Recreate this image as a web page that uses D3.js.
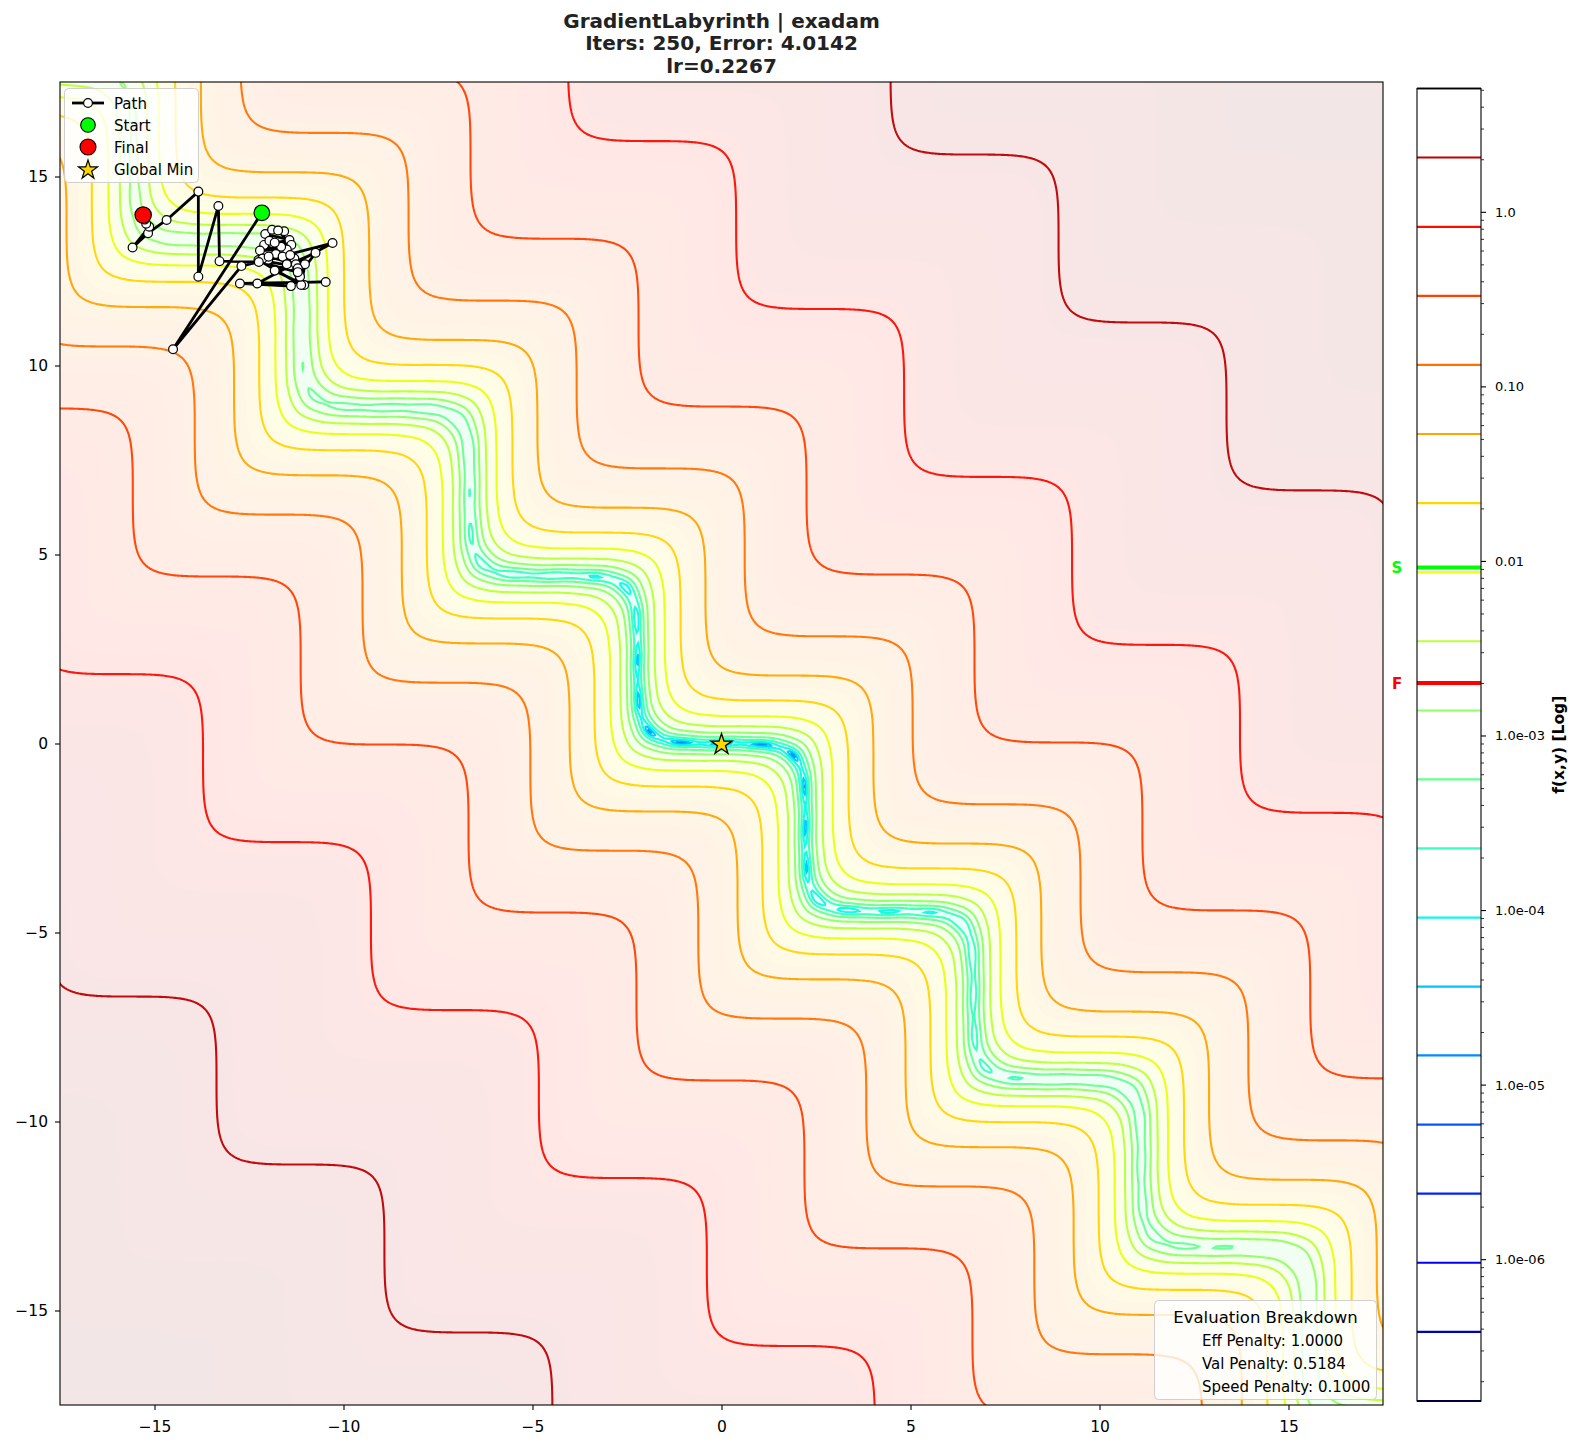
<!DOCTYPE html>
<html>
<head>
<meta charset="utf-8">
<script src="https://cdn.jsdelivr.net/npm/d3@7"></script>
<style>
body { margin: 0; background: #fff; }
text { font-family: "DejaVu Sans", sans-serif; }
</style>
</head>
<body>
<svg id="chart" width="1578" height="1449"></svg>
<script>
// ---- data ----
var titleLines = ["GradientLabyrinth | exadam", "Iters: 250, Error: 4.0142", "lr=0.2267"];
var xTicks = [-15, -10, -5, 0, 5, 10, 15];
var yTicks = [-15, -10, -5, 0, 5, 10, 15];

// contour levels (log spaced)
var levels = [1.55e-7, 3.86e-7, 9.6e-7, 2.39e-6, 5.94e-6, 1.48e-5, 3.67e-5, 9.1e-5,
	2.27e-4, 5.64e-4, 1.40e-3, 3.49e-3, 8.67e-3, 0.0216, 0.0537, 0.1335, 0.332, 0.826, 2.06, 5.12];
var cbTicks = [1e-6, 1e-5, 1e-4, 1e-3, 1e-2, 1e-1, 1];
var cbTickLabels = ["1.0e-06", "1.0e-05", "1.0e-04", "1.0e-03", "0.01", "0.10", "1.0"];
var startValue = 0.00923;
var finalValue = 0.00201;

// optimiser path
var pathX = [-12.16, -14.51, -12.70, -11.99, -10.29, -12.28, -10.47, -12.74, -11.39, -10.74,
	-11.82, -11.04, -11.41, -12.25, -11.12, -11.02, -12.10, -11.43, -12.07, -11.57,
	-11.89, -11.73, -11.38, -11.96, -11.50, -12.21, -11.65, -11.82, -11.30, -12.14,
	-11.79, -11.61, -11.26, -11.98, -11.41, -11.21, -11.50, -11.19, -11.15, -11.21,
	-12.24, -13.28, -13.31, -13.84, -13.84, -14.68, -15.17, -15.58, -15.14, -15.22,
	-15.26, -15.30];
var pathY = [14.04, 10.43, 12.63, 12.80, 13.24, 12.17, 12.21, 12.17, 12.10, 12.98,
	12.51, 12.13, 12.65, 12.79, 12.13, 12.68, 13.19, 13.32, 13.48, 13.55,
	13.59, 13.57, 13.19, 13.30, 13.07, 13.04, 13.14, 13.25, 12.83, 12.83,
	12.95, 12.88, 12.68, 12.88, 12.92, 12.57, 12.68, 12.43, 12.35, 12.47,
	12.74, 12.76, 14.22, 12.35, 14.60, 13.85, 13.50, 13.12, 13.67, 13.75,
	13.86, 13.98];
var globalMin = [0, 0];

var legendNames = ["Path", "Start", "Final", "Global Min"];
var evalTitle = "Evaluation Breakdown";
var evalLines = ["Eff Penalty: 1.0000", "Val Penalty: 0.5184", "Speed Penalty: 0.1000"];

// surface shape parameters
var bowl = 0.0083, stepSharp = 1.2, floorK = 2e-6, rippleAmp = 3.5e-5;

// staircase profile: integral of a soft square wave (slope +1 / -1 along the diagonal)
var stairN = 4096, stairTab = new Float64Array(stairN + 1);
(function() {
	var h = 2 * Math.PI / stairN, norm = Math.tanh(stepSharp);
	var prev = 1, acc = 0;
	stairTab[0] = 0;
	for (var k = 1; k <= stairN; k++) {
		var s = Math.tanh(stepSharp * Math.cos(k * h)) / norm;
		acc += 0.5 * (prev + s) * h;
		stairTab[k] = acc;
		prev = s;
	}
})();
function stair(v) {
	var p = v / (2 * Math.PI);
	p = (p - Math.floor(p)) * stairN;
	var k = Math.floor(p), f = p - k;
	return stairTab[k] + (stairTab[Math.min(k + 1, stairN)] - stairTab[k]) * f;
}

function surface(x, y) {
	var u = (x + y) / Math.SQRT2, v = (x - y) / Math.SQRT2;
	var g = u - stair(v);
	var r2 = x * x + y * y;
	return bowl * g * g + floorK * r2 * (1 - 0.25 * Math.tanh(v / 4)) + rippleAmp * (1 - Math.cos(8 * v));
}

// jet colormap
var jetR = [[0, 0], [0.35, 0], [0.66, 1], [0.89, 1], [1, 0.5]];
var jetG = [[0, 0], [0.125, 0], [0.375, 1], [0.64, 1], [0.91, 0], [1, 0]];
var jetB = [[0, 0.5], [0.11, 1], [0.34, 1], [0.65, 0], [1, 0]];
function seg(pts, t) {
	for (var i = 1; i < pts.length; i++) {
		if (t <= pts[i][0]) {
			var a = pts[i - 1], b = pts[i];
			return a[1] + (b[1] - a[1]) * (t - a[0]) / (b[0] - a[0]);
		}
	}
	return pts[pts.length - 1][1];
}
function jet(t, alpha) {
	t = Math.max(0, Math.min(1, t));
	var al = alpha == null ? 1 : alpha;
	var r = seg(jetR, t), g = seg(jetG, t), b = seg(jetB, t);
	return d3.rgb(255 * (r * al + 1 - al), 255 * (g * al + 1 - al), 255 * (b * al + 1 - al)).toString();
}

// ---- layout ----
var svg = d3.select("#chart");
var plot = {l: 60, r: 1383, t: 82, b: 1405};
var cb = {l: 1417, r: 1481, t: 88.5, b: 1401};

var xScale = d3.scaleLinear().domain([-17.5, 17.5]).range([plot.l, plot.r]);
var yScale = d3.scaleLinear().domain([-17.5, 17.5]).range([plot.b, plot.t]);
var logMin = Math.log(levels[0]), logMax = Math.log(levels[levels.length - 1]);

var ext = 17.9;
function sampleGrid(n) {
	var vals = new Float64Array(n * n), step = 2 * ext / n;
	for (var j = 0; j < n; j++) {
		var y = ext - (j + 0.5) * step;
		for (var i = 0; i < n; i++) {
			vals[j * n + i] = surface(-ext + (i + 0.5) * step, y);
		}
	}
	return vals;
}
function gridPath(n) {
	var step = 2 * ext / n;
	return d3.geoPath(d3.geoTransform({
		point: function(px, py) { this.stream.point(xScale(-ext + px * step), yScale(ext - py * step)); }
	}));
}

svg.append("defs").append("clipPath").attr("id", "plotclip")
	.append("rect").attr("x", plot.l).attr("y", plot.t)
	.attr("width", plot.r - plot.l).attr("height", plot.b - plot.t);

var field = svg.append("g").attr("clip-path", "url(#plotclip)");

// faint filled background
var nBg = 300;
var bgVals = sampleGrid(nBg);
var bgSteps = 70;
var bgThr = d3.range(bgSteps).map(function(k) { return Math.exp(logMin + (logMax - logMin) * k / bgSteps); });
field.append("rect").attr("x", plot.l).attr("y", plot.t)
	.attr("width", plot.r - plot.l).attr("height", plot.b - plot.t)
	.attr("fill", jet(0, 0.1));
var bgPath = gridPath(nBg);
field.append("g").selectAll("path")
	.data(d3.contours().size([nBg, nBg]).thresholds(bgThr)(bgVals))
	.join("path")
	.attr("d", bgPath)
	.attr("fill", function(d, k) { return jet((k + 0.5) / bgSteps, 0.1); });

// contour lines
var nLine = 900;
var lineVals = sampleGrid(nLine);
var linePath = gridPath(nLine);
field.append("g").selectAll("path")
	.data(d3.contours().size([nLine, nLine]).thresholds(levels)(lineVals))
	.join("path")
	.attr("d", linePath)
	.attr("fill", "none")
	.attr("stroke", function(d, k) { return jet(k / (levels.length - 1)); })
	.attr("stroke-opacity", 0.95)
	.attr("stroke-width", 2.1);

// optimiser path
var pts = pathX.map(function(x, i) { return [xScale(x), yScale(pathY[i])]; });
field.append("path")
	.attr("d", d3.line()(pts))
	.attr("fill", "none").attr("stroke", "#000").attr("stroke-width", 2.8)
	.attr("stroke-linejoin", "round");
field.append("g").selectAll("circle").data(pts).join("circle")
	.attr("cx", function(d) { return d[0]; }).attr("cy", function(d) { return d[1]; })
	.attr("r", 4.4).attr("fill", "#fff").attr("stroke", "#000").attr("stroke-width", 1.2);

function starPath(cx, cy, R) {
	var p = [];
	for (var i = 0; i < 10; i++) {
		var rr = i % 2 === 0 ? R : R * 0.382;
		var a = -Math.PI / 2 + i * Math.PI / 5;
		p.push([cx + rr * Math.cos(a), cy + rr * Math.sin(a)]);
	}
	return "M" + p.join("L") + "Z";
}

var last = pts.length - 1;
field.append("circle").attr("cx", pts[0][0]).attr("cy", pts[0][1]).attr("r", 7.8)
	.attr("fill", "#00ff00").attr("stroke", "#000").attr("stroke-width", 1.2);
field.append("circle").attr("cx", pts[last][0]).attr("cy", pts[last][1]).attr("r", 8.2)
	.attr("fill", "#ff0000").attr("stroke", "#000").attr("stroke-width", 1.2);
field.append("path").attr("d", starPath(xScale(globalMin[0]), yScale(globalMin[1]) + 1, 11))
	.attr("fill", "#ffd700").attr("stroke", "#000").attr("stroke-width", 1.3);

// frame
svg.append("rect").attr("x", plot.l).attr("y", plot.t)
	.attr("width", plot.r - plot.l).attr("height", plot.b - plot.t)
	.attr("fill", "none").attr("stroke", "#000").attr("stroke-width", 1.1);

// axes
function fmt(v) { return v < 0 ? "\u2212" + Math.abs(v) : String(v); }
var xAxis = svg.append("g").attr("transform", "translate(0," + plot.b + ")")
	.call(d3.axisBottom(xScale).tickValues(xTicks).tickFormat(fmt).tickSize(5).tickPadding(11));
var yAxis = svg.append("g").attr("transform", "translate(" + plot.l + ",0)")
	.call(d3.axisLeft(yScale).tickValues(yTicks).tickFormat(fmt).tickSize(5).tickPadding(7));
[xAxis, yAxis].forEach(function(a) {
	a.select(".domain").remove();
	a.selectAll("line").attr("stroke", "#000").attr("stroke-width", 1.1);
	a.selectAll("text").attr("font-size", 15.5).attr("fill", "#000")
		.attr("font-family", "DejaVu Sans, sans-serif");
});

// title
svg.append("g").selectAll("text").data(titleLines).join("text")
	.attr("x", (plot.l + plot.r) / 2).attr("y", function(d, i) { return 27.5 + i * 22.6; })
	.attr("text-anchor", "middle").attr("font-size", 20).attr("font-weight", "bold")
	.attr("fill", "#222").text(function(d) { return d; });

// legend
var lg = svg.append("g");
lg.append("rect").attr("x", 64.5).attr("y", 88.5).attr("width", 134).attr("height", 94)
	.attr("rx", 4).attr("fill", "#fff").attr("fill-opacity", 0.8)
	.attr("stroke", "#d0d0d0").attr("stroke-width", 1);
var rowY = [103, 125, 147, 169];
lg.append("line").attr("x1", 72).attr("x2", 104).attr("y1", rowY[0]).attr("y2", rowY[0])
	.attr("stroke", "#000").attr("stroke-width", 2.8);
lg.append("circle").attr("cx", 88).attr("cy", rowY[0]).attr("r", 4.4)
	.attr("fill", "#fff").attr("stroke", "#000").attr("stroke-width", 1.2);
lg.append("circle").attr("cx", 88).attr("cy", rowY[1]).attr("r", 7.3)
	.attr("fill", "#00ff00").attr("stroke", "#000").attr("stroke-width", 1.1);
lg.append("circle").attr("cx", 88).attr("cy", rowY[2]).attr("r", 8)
	.attr("fill", "#ff0000").attr("stroke", "#000").attr("stroke-width", 1.1);
lg.append("path").attr("d", starPath(88, rowY[3] + 1, 10))
	.attr("fill", "#ffd700").attr("stroke", "#000").attr("stroke-width", 1.2);
lg.selectAll("text.lab").data(legendNames).join("text").attr("class", "lab")
	.attr("x", 114).attr("y", function(d, i) { return rowY[i] + 5.5; })
	.attr("font-size", 15).attr("fill", "#000").text(function(d) { return d; });

// evaluation box
var eb = svg.append("g");
eb.append("rect").attr("x", 1154.5).attr("y", 1300.5).attr("width", 222).attr("height", 99)
	.attr("rx", 4).attr("fill", "#fff").attr("fill-opacity", 0.8)
	.attr("stroke", "#d0d0d0").attr("stroke-width", 1);
eb.append("text").attr("x", 1265.5).attr("y", 1323).attr("text-anchor", "middle")
	.attr("font-size", 16.5).attr("fill", "#000").text(evalTitle);
eb.selectAll("text.line").data(evalLines).join("text").attr("class", "line")
	.attr("x", 1202).attr("y", function(d, i) { return 1346 + i * 23; })
	.attr("font-size", 15).attr("fill", "#000").text(function(d) { return d; });

// colour bar
var cbScale = d3.scaleLog().domain([levels[0], levels[levels.length - 1]]).range([cb.b, cb.t]);
var cbg = svg.append("g");
cbg.append("rect").attr("x", cb.l).attr("y", cb.t).attr("width", cb.r - cb.l).attr("height", cb.b - cb.t)
	.attr("fill", "#fff");
cbg.selectAll("line.lev").data(levels).join("line").attr("class", "lev")
	.attr("x1", cb.l).attr("x2", cb.r)
	.attr("y1", function(d) { return cbScale(d); }).attr("y2", function(d) { return cbScale(d); })
	.attr("stroke", function(d, k) { return jet(k / (levels.length - 1)); })
	.attr("stroke-width", 2.2);
cbg.append("line").attr("x1", cb.l).attr("x2", cb.r)
	.attr("y1", cbScale(startValue)).attr("y2", cbScale(startValue))
	.attr("stroke", "#00ff00").attr("stroke-width", 4);
cbg.append("line").attr("x1", cb.l).attr("x2", cb.r)
	.attr("y1", cbScale(finalValue)).attr("y2", cbScale(finalValue))
	.attr("stroke", "#ff0000").attr("stroke-width", 4);
cbg.append("text").attr("x", 1397).attr("y", cbScale(startValue) + 5.5).attr("text-anchor", "middle")
	.attr("font-size", 15).attr("font-weight", "bold").attr("fill", "#00ff00").text("S");
cbg.append("text").attr("x", 1397).attr("y", cbScale(finalValue) + 5.5).attr("text-anchor", "middle")
	.attr("font-size", 15).attr("font-weight", "bold").attr("fill", "#ff0000").text("F");
cbg.append("rect").attr("x", cb.l).attr("y", cb.t).attr("width", cb.r - cb.l).attr("height", cb.b - cb.t)
	.attr("fill", "none").attr("stroke", "#000").attr("stroke-width", 1.1);

// minor ticks
var minorTicks = [];
for (var e = -7; e <= 0; e++) {
	for (var m = 2; m <= 9; m++) {
		var tv = m * Math.pow(10, e);
		if (tv > levels[0] && tv < levels[levels.length - 1]) minorTicks.push(tv);
	}
}
cbg.selectAll("line.minor").data(minorTicks).join("line").attr("class", "minor")
	.attr("x1", cb.r).attr("x2", cb.r + 3)
	.attr("y1", function(d) { return cbScale(d); }).attr("y2", function(d) { return cbScale(d); })
	.attr("stroke", "#000").attr("stroke-width", 0.8);
cbg.selectAll("line.major").data(cbTicks).join("line").attr("class", "major")
	.attr("x1", cb.r).attr("x2", cb.r + 5)
	.attr("y1", function(d) { return cbScale(d); }).attr("y2", function(d) { return cbScale(d); })
	.attr("stroke", "#000").attr("stroke-width", 1.1);
cbg.selectAll("text.tl").data(cbTicks).join("text").attr("class", "tl")
	.attr("x", cb.r + 14).attr("y", function(d) { return cbScale(d) + 4.5; })
	.attr("font-size", 13).attr("fill", "#000")
	.text(function(d, i) { return cbTickLabels[i]; });
svg.append("text").attr("transform", "translate(1564," + ((cb.t + cb.b) / 2) + ") rotate(-90)")
	.attr("text-anchor", "middle").attr("font-size", 15.5).attr("font-weight", "bold")
	.attr("fill", "#000").text("f(x,y) [Log]");
</script>
</body>
</html>
